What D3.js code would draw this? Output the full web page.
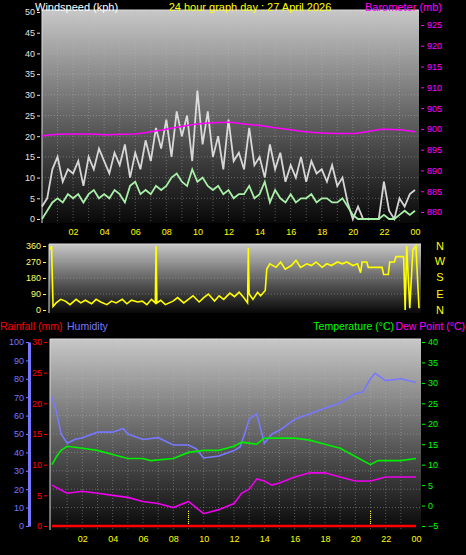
<!DOCTYPE html>
<html><head><meta charset="utf-8">
<script src="https://cdn.jsdelivr.net/npm/d3@7"></script>
<style>body{margin:0;background:#000}svg{display:block}text{font-family:"Liberation Sans",Arial,sans-serif}</style>
</head><body><svg id="c" width="466" height="555"></svg>
<script>
// ---- data ----
const title = "24 hour graph day : 27 April 2026";
const hourTicks = ["02","04","06","08","10","12","14","16","18","20","22","00"];
const windTimes = d3.range(0,24.01,1/3);
const gust = [3,5,12, 15,9,12, 11,14,8, 15,12,17, 14,11,16, 13,18,10, 16,12,19, 14,22,17, 24,15,26, 20,25,14, 31,18,26, 15,20,12, 24,14,16, 12,22,13, 15,10,18, 12,16,9, 13,10,15, 9,14,11, 12,9,13, 8,10,4, 0,3,0, 0,0,0, 9,2,0, 5,3,6, 7];
const avgWind = [0,2,4, 5,4,6, 5,6,4, 6,7,5, 6,5,7, 6,4,8, 9,6,7, 6,8,7, 8,10,11, 9,8,12, 9,10,8, 7,8,6, 7,5,6, 6,8,5, 6,9,4, 7,5,4, 6,4,5, 5,6,4, 5,5,4, 4,5,3, 1,0,0, 0,0,0, 1,0,0, 1,2,1, 2];
const baroTimes = d3.range(0,25);
const baro = [898.3,898.7,898.8,898.8,898.6,898.7,898.8,899.3,899.9,900.6,901.2,901.5,901.6,901.2,900.8,900.3,899.8,899.3,899.0,898.9,898.9,899.4,899.9,899.8,899.3];
const dirTimes = [0,0.1,0.2,0.4,0.7,1,1.3,1.7,2,2.3,2.7,3,3.3,3.7,4,4.3,4.7,5,5.3,5.7,6,6.3,6.6,6.85,6.9,6.95,7.2,7.5,8,8.3,8.7,9,9.3,9.7,10,10.3,10.7,11,11.3,11.7,12,12.3,12.6,12.85,12.9,12.95,13.2,13.5,13.7,14,14.1,14.3,14.7,15,15.3,15.7,16,16.3,16.7,17,17.3,17.7,18,18.3,18.7,19,19.3,19.7,20,20.2,20.3,20.6,20.7,21,21.3,21.6,21.7,22,22.1,22.4,22.5,23,23.1,23.2,23.4,23.6,23.8,24];
const dirVals = [340,360,20,40,60,50,30,60,40,55,35,60,45,30,50,40,60,35,55,45,50,30,60,40,360,40,55,30,50,70,40,60,80,45,70,90,50,80,60,95,75,100,70,40,350,90,60,100,80,110,230,260,240,270,230,250,280,240,260,250,270,240,260,250,270,260,270,250,260,210,270,270,240,240,240,240,200,200,270,270,300,300,0,360,10,340,360,10];
const humTimes = [0,0.3,0.6,1,1.5,2,3,4,4.7,5,6,7,8,9,9.5,10,11,12,12.4,12.7,13,13.5,14,14.5,15,16,17,18,19,20,20.5,21,21.3,22,23,24];
const hum = [70,62,50,45,47,48,51,51,53,50,47,48,44,44,42,37,38,41,43,50,58,61,45,50,52,58,61,64,67,72,73,80,83,79,80,78];
const tempTimes = [0,0.3,0.6,1,2,3,4,5,6,6.5,8,9,10,11,12,12.5,13.5,14,16,17,18,19,20,21,21.5,23,24];
const temp = [10,12,13.5,14.5,14,13.5,12.5,11.5,11.5,11,11.5,13,13.5,13.5,14.5,15.5,15,16.5,16.5,16,15,14,12,10,11,11,11.5];
const dewTimes = [0,0.5,1,2,3,4,5,6,7,8,9,10,11,12,12.5,13,13.5,14,14.5,15,16,17,18,19,20,21,22,24];
const dew = [5,4,3,3.5,3,2.5,2,1,0.5,-0.5,1,-2,-1,0.5,3,4,6.5,6,5,5.5,7,8,8,7,6,6,7,7];
const rainTimes = [0,24];
const rain = [0,0];

// ---- drawing ----
const svg = d3.select("#c");
const defs = svg.append("defs");
const g = defs.append("linearGradient").attr("id","bg").attr("x1",0).attr("y1",0).attr("x2",0).attr("y2",1);
g.append("stop").attr("offset","0%").attr("stop-color","#c8c8c8");
g.append("stop").attr("offset","55%").attr("stop-color","#5a5a5a");
g.append("stop").attr("offset","100%").attr("stop-color","#080808");

function panel(x0,x1,y0,y1){
  svg.append("rect").attr("x",x0).attr("y",y0).attr("width",x1-x0).attr("height",y1-y0).attr("fill","url(#bg)");
  svg.append("path").attr("d",`M${x0},${y1}V${y0}H${x1}`).attr("stroke","#ddd").attr("fill","none");
}
function grid(x,y,xs,ys,x0,x1,y0,y1){
  const gg=svg.append("g").attr("stroke","#bbb").attr("stroke-width",0.6).attr("stroke-dasharray","1,2").attr("opacity",0.7);
  xs.forEach(v=>gg.append("line").attr("x1",x(v)).attr("x2",x(v)).attr("y1",y0).attr("y2",y1));
  ys.forEach(v=>gg.append("line").attr("x1",x0).attr("x2",x1).attr("y1",y(v)).attr("y2",y(v)));
}
function txt(x,y,s,fill,size,anchor){svg.append("text").attr("x",x).attr("y",y).text(s).attr("fill",fill).attr("font-size",size).attr("text-anchor",anchor||"start");}
function leftAxis(scale,x,vals,color,lineColor){
  const a=svg.append("g").attr("transform",`translate(${x},0)`).call(d3.axisLeft(scale).tickValues(vals).tickSize(3).tickSizeOuter(0).tickPadding(2));
  if(lineColor) a.select(".domain").attr("stroke",lineColor).attr("stroke-width",3); else a.select(".domain").remove();
  a.selectAll("line").attr("stroke",color);a.selectAll("text").attr("fill",color).attr("font-size",9);
}
function rightAxis(scale,x,vals,color){
  const a=svg.append("g").attr("transform",`translate(${x},0)`).call(d3.axisRight(scale).tickValues(vals).tickSize(3).tickSizeOuter(0).tickPadding(3));
  a.select(".domain").remove();
  a.selectAll("line").attr("stroke",color);a.selectAll("text").attr("fill",color).attr("font-size",9);
}
function bottomAxis(scale,y){
  const a=svg.append("g").attr("transform",`translate(0,${y})`).call(d3.axisBottom(scale).tickValues(d3.range(2,25,2)).tickFormat((d,i)=>hourTicks[i]).tickSize(0).tickPadding(6));
  a.select(".domain").remove();a.selectAll("text").attr("fill","#ffff00").attr("font-size",9);
}
const line=(x,y,ts)=>d3.line().x((d,i)=>x(ts[i])).y(d=>y(d));

// Top panel
const xT=d3.scaleLinear().domain([0,24]).range([42,415]);
const yW=d3.scaleLinear().domain([0,50]).range([219,12]);
const yB=d3.scaleLinear().domain([880,925]).range([212,25]);
panel(42,419,10,223);
grid(xT,yW,d3.range(1,24),d3.range(5,50,5),42,419,10,223);
leftAxis(yW,40,d3.range(0,51,5),"#e0e0e0");
rightAxis(yB,421,d3.range(880,926,5),"#ff00ff");
bottomAxis(xT,223);
svg.append("path").datum(gust).attr("d",line(xT,yW,windTimes)).attr("stroke","#e8e8e8").attr("stroke-width",1.8).attr("fill","none").attr("opacity",0.9);
svg.append("path").datum(avgWind).attr("d",line(xT,yW,windTimes)).attr("stroke","#a8f0a8").attr("stroke-width",1.8).attr("fill","none");
svg.append("path").datum(baro).attr("d",line(xT,yB,baroTimes).curve(d3.curveMonotoneX)).attr("stroke","#ff00ff").attr("stroke-width",1.5).attr("fill","none");
txt(35,11,"Windspeed (kph)","#fff",11);
txt(250,11,title,"#ffff00",11,"middle");
txt(442,11,"Barometer (mb)","#ff00ff",11,"end");

// Direction panel
const xD=d3.scaleLinear().domain([0,24]).range([50,419]);
const yD=d3.scaleLinear().domain([0,360]).range([310,246]);
panel(49,421,244,313);
grid(xD,yD,[],[90,180,270],49,421,244,313);
leftAxis(yD,46,[0,90,180,270,360],"#ffff66");
svg.append("path").datum(dirVals).attr("d",line(xD,yD,dirTimes)).attr("stroke","#ffff00").attr("stroke-width",1.6).attr("fill","none");
["N","W","S","E","N"].forEach((s,i)=>txt(440,[250,265,281,298,314][i],s,"#ffff00",11,"middle"));

// Bottom panel
txt(0,330,"Rainfall (mm)","#ff0000",10.5);
txt(67,330,"Humidity","#7878ff",10.5);
txt(394,330,"Temperature (°C)","#00ff00",10.5,"end");
txt(465,330,"Dew Point (°C)","#ff00ff",10.5,"end");
const xB=d3.scaleLinear().domain([0,24]).range([52,416]);
const yH=d3.scaleLinear().domain([0,100]).range([526,342]);
const yR=d3.scaleLinear().domain([0,30]).range([526,342]);
const yTp=d3.scaleLinear().domain([-5,40]).range([526,342]);
panel(50,421,339,530);
grid(xB,yH,d3.range(1,24),d3.range(10,100,10),50,421,339,530);
leftAxis(yH,29,d3.range(0,101,10),"#7878ff","#7878ff");
leftAxis(yR,47,d3.range(0,31,5),"#ff0000");
rightAxis(yTp,422,d3.range(-5,41,5),"#00ff00");
bottomAxis(xB,530);
[9,21].forEach(h=>svg.append("line").attr("x1",xB(h)).attr("x2",xB(h)).attr("y1",511).attr("y2",526).attr("stroke","#ffff00").attr("stroke-dasharray","1,1"));
svg.append("path").datum(hum).attr("d",line(xB,yH,humTimes)).attr("stroke","#7878ff").attr("stroke-width",1.6).attr("fill","none");
svg.append("path").datum(temp).attr("d",line(xB,yTp,tempTimes)).attr("stroke","#00ee00").attr("stroke-width",1.6).attr("fill","none");
svg.append("path").datum(dew).attr("d",line(xB,yTp,dewTimes)).attr("stroke","#ee00ee").attr("stroke-width",1.6).attr("fill","none");
svg.append("path").datum(rain).attr("d",line(xB,yR,rainTimes)).attr("stroke","#ff0000").attr("stroke-width",2.5).attr("fill","none");
</script></body></html>
